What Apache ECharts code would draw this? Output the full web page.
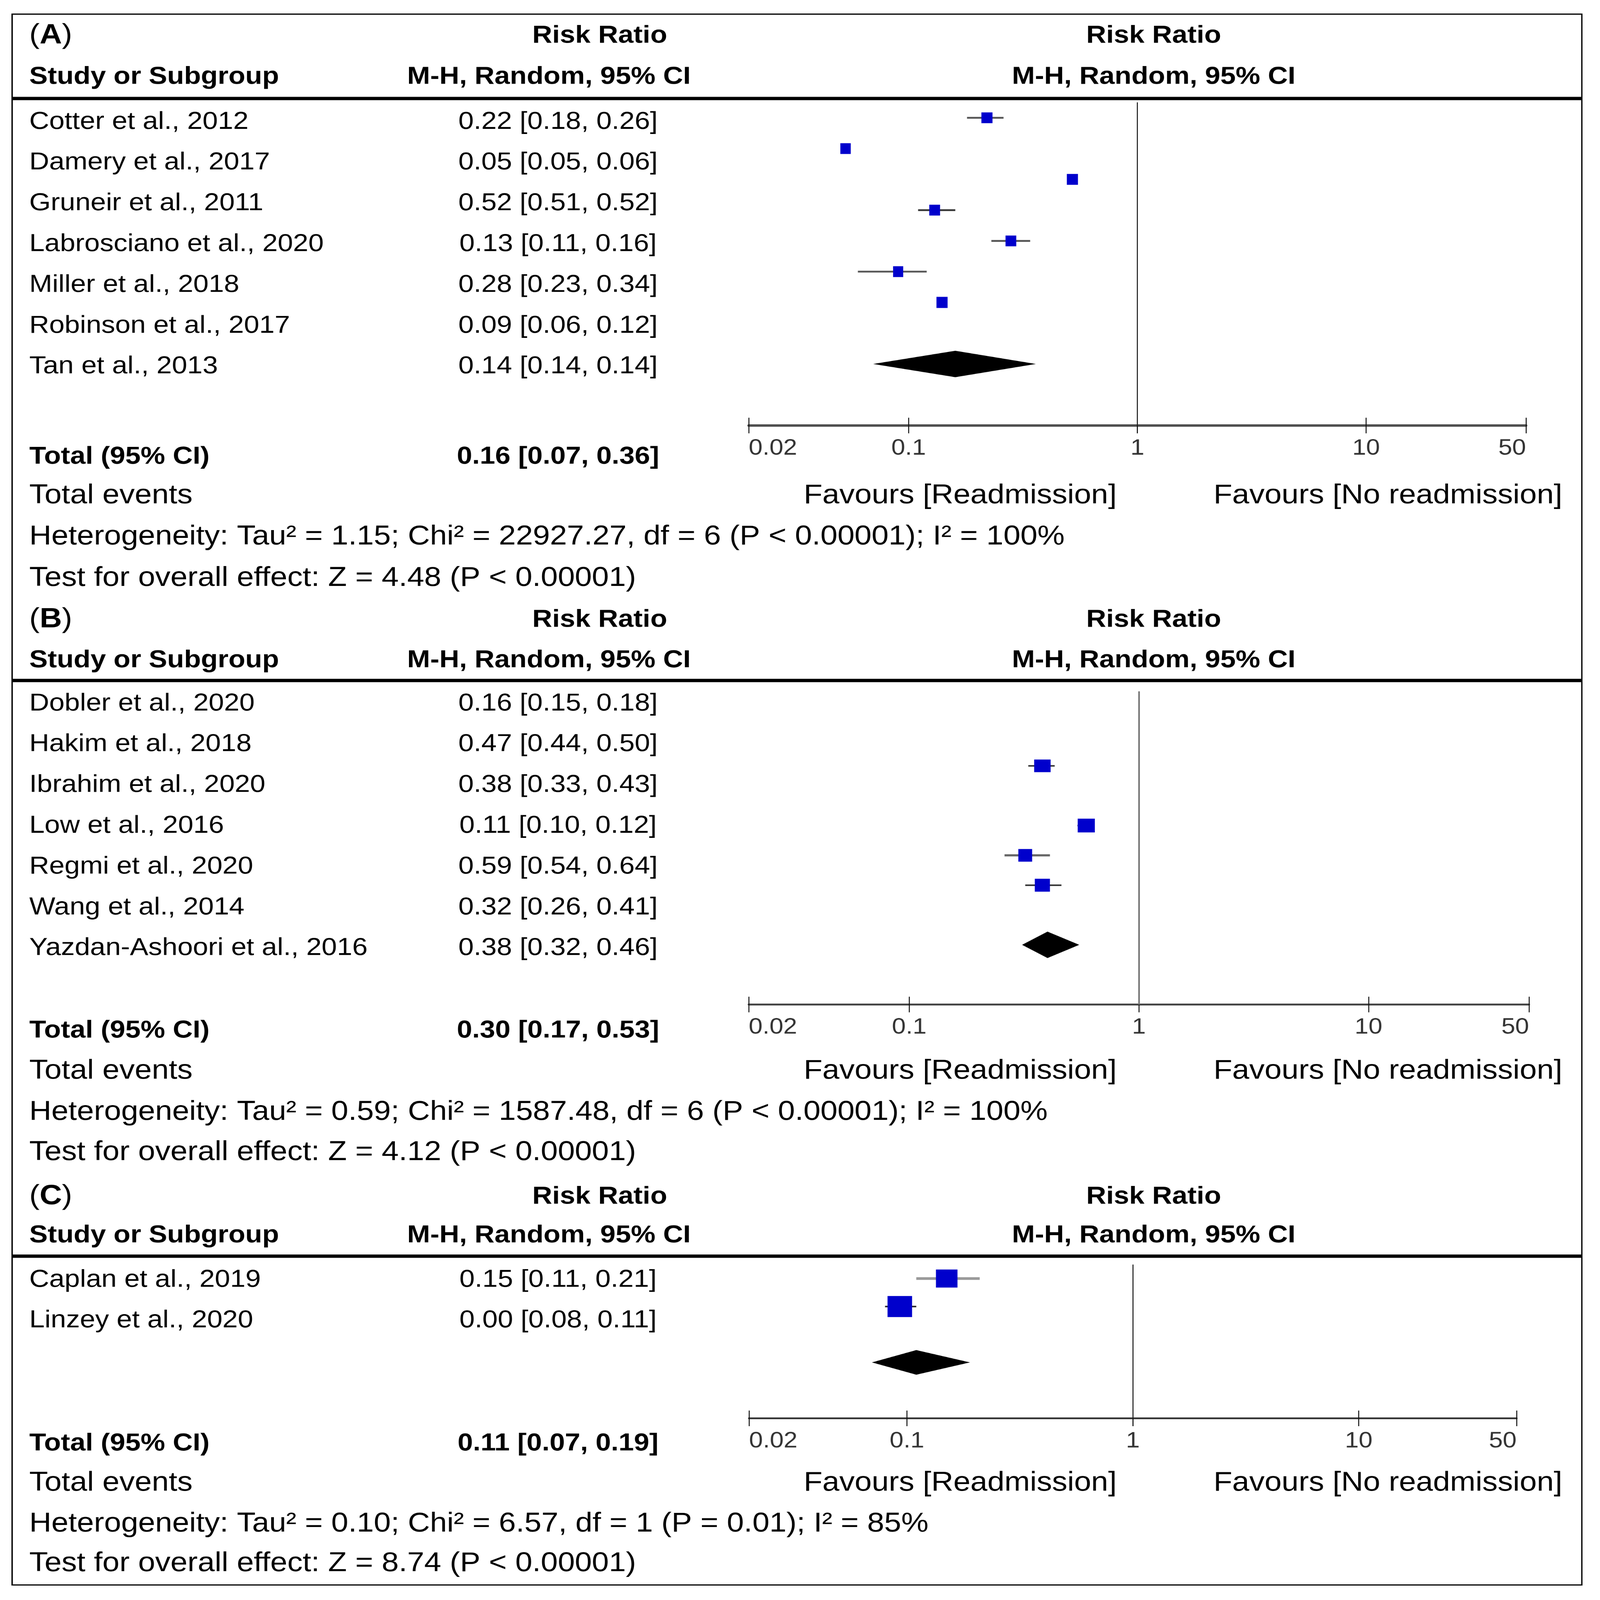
<!DOCTYPE html>
<html>
<head>
<meta charset="utf-8">
<script src="https://cdn.jsdelivr.net/npm/echarts@6/dist/echarts.min.js"></script>
<style>
html,body{margin:0;padding:0;background:#fff;overflow:hidden;}
#c{position:absolute;left:0;top:0;width:4757px;height:5328px;transform-origin:0 0;}
</style>
</head>
<body>
<div id="c"></div>
<script>
// ================= DATA =================
// Panel A
const studiesA = ["Cotter et al., 2012", "Damery et al., 2017", "Gruneir et al., 2011", "Labrosciano et al., 2020", "Miller et al., 2018", "Robinson et al., 2017", "Tan et al., 2013"];
const textA = ["0.22 [0.18, 0.26]", "0.05 [0.05, 0.06]", "0.52 [0.51, 0.52]", "0.13 [0.11, 0.16]", "0.28 [0.23, 0.34]", "0.09 [0.06, 0.12]", "0.14 [0.14, 0.14]"];
const rrA = [0.22, 0.053, 0.52, 0.13, 0.28, 0.09, 0.14];     // as drawn
const loA = [0.18, 0.051, 0.51, 0.11, 0.23, 0.06, 0.14];
const hiA = [0.26, 0.055, 0.52, 0.16, 0.34, 0.12, 0.14];
const pooledA = [0.07, 0.16, 0.36];                           // lower, estimate, upper (as drawn)
const totalTextA = "0.16 [0.07, 0.36]";
const hetA = "Heterogeneity: Tau² = 1.15; Chi² = 22927.27, df = 6 (P < 0.00001); I² = 100%";
const testA = "Test for overall effect: Z = 4.48 (P < 0.00001)";

// Panel B (only four study markers are drawn in the picture)
const studiesB = ["Dobler et al., 2020", "Hakim et al., 2018", "Ibrahim et al., 2020", "Low et al., 2016", "Regmi et al., 2020", "Wang et al., 2014", "Yazdan-Ashoori et al., 2016"];
const textB = ["0.16 [0.15, 0.18]", "0.47 [0.44, 0.50]", "0.38 [0.33, 0.43]", "0.11 [0.10, 0.12]", "0.59 [0.54, 0.64]", "0.32 [0.26, 0.41]", "0.38 [0.32, 0.46]"];
const rrB = [null, null, 0.38, null, 0.59, 0.32, 0.38];
const loB = [null, null, 0.33, null, 0.54, 0.26, 0.32];
const hiB = [null, null, 0.43, null, 0.64, 0.41, 0.46];
const pooledB = [0.31, 0.40, 0.55];                           // diamond as drawn
const totalTextB = "0.30 [0.17, 0.53]";
const hetB = "Heterogeneity: Tau² = 0.59; Chi² = 1587.48, df = 6 (P < 0.00001); I² = 100%";
const testB = "Test for overall effect: Z = 4.12 (P < 0.00001)";

// Panel C
const studiesC = ["Caplan et al., 2019", "Linzey et al., 2020"];
const textC = ["0.15 [0.11, 0.21]", "0.00 [0.08, 0.11]"];
const rrC = [0.15, 0.093];
const loC = [0.11, 0.08];
const hiC = [0.21, 0.11];
const pooledC = [0.07, 0.11, 0.19];
const totalTextC = "0.11 [0.07, 0.19]";
const hetC = "Heterogeneity: Tau² = 0.10; Chi² = 6.57, df = 1 (P = 0.01); I² = 85%";
const testC = "Test for overall effect: Z = 8.74 (P < 0.00001)";

// Axis ticks
const tickValues = [0.02, 0.1, 1, 10, 50];
const tickLabels = ["0.02", "0.1", "1", "10", "50"];

// ================= LAYOUT / STYLE =================
const W = 4757, H = 5328;
const FONT = '"Liberation Sans", Arial, Helvetica, sans-serif';
const BLUE = '#0000CC';

// Fit the 4757x5328 drawing to the actual window
(function fit() {
  const vw = window.innerWidth || W, vh = window.innerHeight || H;
  const sx = vw / W, sy = vh / H;
  document.getElementById('c').style.transform = 'scale(' + sx + ',' + sy + ')';
})();

const panels = [
  {
    letter: 'A', studies: studiesA, text: textA, rr: rrA, lo: loA, hi: hiA, pooled: pooledA,
    totalText: totalTextA, het: hetA, test: testA,
    grid: {left: 2226, top: 341, width: 2311, height: 1076}, yMax: 10, diamondRow: 8, diamondHalf: 44,
    sizes: [[33,36],[31,36],[33,36],[32,36],[32,36],[30,36],[33,37]],
    ciColor: ['#555','#555','#555','#333','#555','#555','#555'], ciWidth: [6,6,6,6,6,6,6],
    axisColor: '#4d4d4d', axisWidth: 8, refColor: '#222', refWidth: 3,
    y: {label: 119, head: 256, line: 328, row0: 406, total: 1521, events: 1651, het: 1788, test: 1926}
  },
  {
    letter: 'B', studies: studiesB, text: textB, rr: rrB, lo: loB, hi: hiB, pooled: pooledB,
    totalText: totalTextB, het: hetB, test: testB,
    grid: {left: 2226, top: 2302, width: 2320, height: 1043}, yMax: 10, diamondRow: 8, diamondHalf: 44,
    sizes: [[40,40],[40,40],[49,42],[40,40],[51,46],[41,42],[45,43]],
    ciColor: ['#333','#333','#333','#333','#333','#666','#333'], ciWidth: [5,5,5,5,5,7,5],
    axisColor: '#444', axisWidth: 6, refColor: '#777', refWidth: 5,
    y: {label: 2064, head: 2199, line: 2266, row0: 2343, total: 3432, events: 3567, het: 3704, test: 3838}
  },
  {
    letter: 'C', studies: studiesC, text: textC, rr: rrC, lo: loC, hi: hiC, pooled: pooledC,
    totalText: totalTextC, het: hetC, test: testC,
    grid: {left: 2227, top: 4211, width: 2282, height: 512}, yMax: 5, diamondRow: 3, diamondHalf: 41,
    sizes: [[64,60],[73,70]],
    ciColor: ['#9a9a9a','#222'], ciWidth: [9,5],
    axisColor: '#333', axisWidth: 6, refColor: '#222', refWidth: 3,
    y: {label: 3985, head: 4114, line: 4183, row0: 4262, total: 4807, events: 4939, het: 5075, test: 5207}
  }
];

function labelFor(v) {
  const i = tickValues.findIndex(t => Math.abs(Math.log10(t) - Math.log10(v)) < 1e-6);
  return i >= 0 ? tickLabels[i] : '';
}

function txt(text, x, y, size, bold, align) {
  return {
    type: 'text', x: x, y: y, silent: true, z: 10,
    style: {text: text, fill: '#000', font: (bold ? 'bold ' : '') + size + 'px ' + FONT,
            align: align || 'left', verticalAlign: 'middle'}
  };
}

const grids = [], xAxes = [], yAxes = [], series = [], graphics = [];

// Outer border
graphics.push({type: 'rect', silent: true, z: 5,
  shape: {x: 36, y: 47, width: 4667, height: 5231},
  style: {fill: 'none', stroke: '#000', lineWidth: 4}});

panels.forEach((p, gi) => {
  grids.push(Object.assign({outerBoundsMode: 'none', containLabel: false}, p.grid));
  const axisBase = {type: 'log', logBase: 10, gridIndex: gi, min: 0.02, max: 50, position: 'bottom',
                    splitLine: {show: false}, minorTick: {show: false}, minorSplitLine: {show: false}};
  xAxes.push(Object.assign({}, axisBase, {
    axisLine: {show: true, onZero: false, lineStyle: {color: p.axisColor, width: p.axisWidth}},
    axisTick: {show: true, inside: false, length: 26, lineStyle: {color: '#111', width: 3}},
    axisLabel: {show: true, margin: 40, fontSize: 74, fontFamily: FONT, color: '#333',
                formatter: labelFor, showMinLabel: true, showMaxLabel: true,
                alignMinLabel: 'left', alignMaxLabel: 'right'}
  }));
  xAxes.push(Object.assign({}, axisBase, {
    axisLine: {show: false, onZero: false},
    axisTick: {show: true, inside: true, length: 26, lineStyle: {color: '#111', width: 3}},
    axisLabel: {show: false}
  }));
  yAxes.push({type: 'value', gridIndex: gi, inverse: true, min: -0.5, max: p.yMax, show: false});

  const xi = 2 * gi;
  const ciData = [], sqData = [];
  p.rr.forEach((v, i) => {
    if (v == null) return;
    ciData.push([p.lo[i], p.hi[i], i]);
    sqData.push([v, i]);
  });

  // Confidence-interval whiskers
  series.push({
    type: 'custom', xAxisIndex: xi, yAxisIndex: gi, z: 2, silent: true, animation: false,
    data: ciData, encode: {x: [0, 1], y: 2},
    renderItem: (params, api) => {
      const row = api.value(2);
      const a = api.coord([api.value(0), row]);
      const b = api.coord([api.value(1), row]);
      return {type: 'line', shape: {x1: a[0], y1: a[1], x2: b[0], y2: b[1]},
              style: {stroke: p.ciColor[row], lineWidth: p.ciWidth[row]}};
    }
  });

  // Study squares + reference line at RR = 1
  series.push({
    type: 'scatter', xAxisIndex: xi, yAxisIndex: gi, z: 3, silent: true, animation: false,
    data: sqData, symbol: 'rect',
    symbolSize: (val) => p.sizes[val[1]],
    itemStyle: {color: BLUE, borderWidth: 0, opacity: 1},
    markLine: {silent: true, symbol: ['none', 'none'], animation: false, label: {show: false},
               lineStyle: {color: p.refColor, width: p.refWidth, type: 'solid'},
               emphasis: {disabled: true},
               data: [{xAxis: 1}]}
  });

  // Pooled diamond
  series.push({
    type: 'custom', xAxisIndex: xi, yAxisIndex: gi, z: 4, silent: true, animation: false,
    data: [[p.pooled[0], p.pooled[1], p.pooled[2], p.diamondRow]], encode: {x: [0, 1, 2], y: 3},
    renderItem: (params, api) => {
      const row = api.value(3);
      const l = api.coord([api.value(0), row]);
      const m = api.coord([api.value(1), row]);
      const r = api.coord([api.value(2), row]);
      const h = p.diamondHalf;
      return {type: 'polygon',
              shape: {points: [[l[0], l[1]], [m[0], m[1] - h], [r[0], r[1]], [m[0], m[1] + h]]},
              style: {fill: '#000'}};
    }
  });

  // ---------- Texts ----------
  const Y = p.y;
  graphics.push({
    type: 'text', x: 87, y: Y.label, silent: true, z: 10,
    style: {text: '{p|(}{b|' + p.letter + '}{p|)}', verticalAlign: 'middle', align: 'left',
            rich: {p: {fontSize: 92, fontFamily: FONT, fontWeight: 'normal', fill: '#000'},
                   b: {fontSize: 92, fontFamily: FONT, fontWeight: 'bold', fill: '#000'}}}
  });
  graphics.push(txt('Risk Ratio', 1783, Y.label, 82, true, 'center'));
  graphics.push(txt('Risk Ratio', 3430, Y.label, 82, true, 'center'));
  graphics.push(txt('Study or Subgroup', 87, Y.head, 82, true, 'left'));
  graphics.push(txt('M-H, Random, 95% CI', 1632, Y.head, 82, true, 'center'));
  graphics.push(txt('M-H, Random, 95% CI', 3430, Y.head, 82, true, 'center'));
  graphics.push({type: 'rect', silent: true, z: 6,
    shape: {x: 36, y: Y.line - 5.5, width: 4667, height: 11}, style: {fill: '#000'}});
  p.studies.forEach((s, i) => {
    graphics.push(txt(s, 87, Y.row0 + 135.8 * i, 82, false, 'left'));
    graphics.push(txt(p.text[i], 1659, Y.row0 + 135.8 * i, 82, false, 'center'));
  });
  graphics.push(txt('Total (95% CI)', 87, Y.total, 82, true, 'left'));
  graphics.push(txt(p.totalText, 1659, Y.total, 82, true, 'center'));
  graphics.push(txt('Total events', 87, Y.events, 91, false, 'left'));
  graphics.push(txt('Favours [Readmission]', 3320, Y.events, 91, false, 'right'));
  graphics.push(txt('Favours [No readmission]', 3608, Y.events, 91, false, 'left'));
  graphics.push(txt(p.het, 87, Y.het, 91, false, 'left'));
  graphics.push(txt(p.test, 87, Y.test, 91, false, 'left'));
});

const chart = echarts.init(document.getElementById('c'), null, {renderer: 'canvas', devicePixelRatio: 1});
chart.setOption({
  backgroundColor: '#fff',
  animation: false,
  grid: grids,
  xAxis: xAxes,
  yAxis: yAxes,
  series: series,
  graphic: graphics
});
</script>
</body>
</html>
